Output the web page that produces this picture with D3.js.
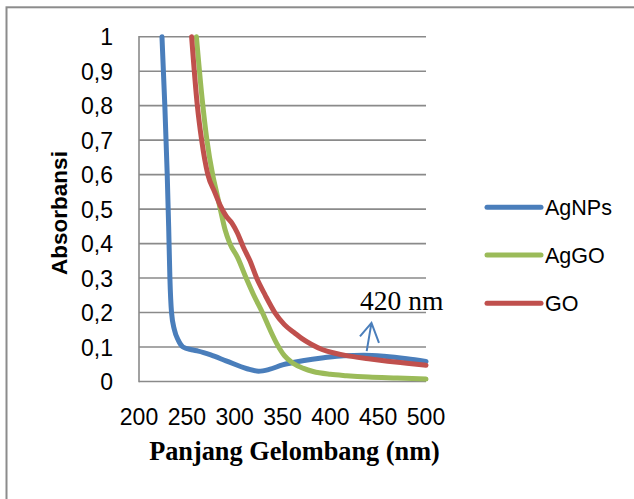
<!DOCTYPE html>
<html>
<head>
<meta charset="utf-8">
<script src="https://cdn.jsdelivr.net/npm/d3@7"></script>
<style>
  html, body { margin: 0; padding: 0; background: #fff; }
  svg { display: block; }
</style>
</head>
<body>
<svg id="chart" width="634" height="499"></svg>
<script>
// ---- data ----
const seriesNames = ["AgNPs", "AgGO", "GO"];
const seriesColors = ["#4a7ebb", "#9bbb59", "#c0504d"];

const agnpsWl  = [224, 227, 229.5, 231, 232.3, 234, 237, 241, 246, 255, 262, 275, 291, 313, 325, 336, 350, 371, 393, 414, 435, 456, 480, 500];
const agnpsAbs = [1.0, 0.8, 0.6, 0.45, 0.3, 0.2, 0.15, 0.12, 0.10, 0.092, 0.088, 0.077, 0.06, 0.037, 0.03, 0.035, 0.048, 0.06, 0.069, 0.075, 0.076, 0.073, 0.066, 0.058];

const aggoWl  = [260, 266, 271, 277, 281, 285, 290, 295, 303, 312, 320, 329, 337, 344, 352, 361, 372, 382, 400, 417, 440, 470, 500];
const aggoAbs = [1.0, 0.82, 0.7, 0.6, 0.55, 0.5, 0.44, 0.4, 0.36, 0.3, 0.25, 0.2, 0.15, 0.11, 0.075, 0.053, 0.038, 0.029, 0.021, 0.017, 0.013, 0.01, 0.007];

const goWl  = [255, 261, 265.5, 272, 279, 285, 291, 297, 303, 309, 316, 323, 332, 342, 352, 363, 370, 380, 392, 405, 417, 440, 460, 480, 500];
const goAbs = [1.0, 0.8, 0.7, 0.6, 0.55, 0.51, 0.48, 0.46, 0.43, 0.39, 0.35, 0.3, 0.25, 0.2, 0.165, 0.14, 0.125, 0.108, 0.092, 0.082, 0.075, 0.066, 0.059, 0.053, 0.047];

const xTicks = [200, 250, 300, 350, 400, 450, 500];
const yTicks = [0, 0.1, 0.2, 0.3, 0.4, 0.5, 0.6, 0.7, 0.8, 0.9, 1];
const yTickLabels = ["0", "0,1", "0,2", "0,3", "0,4", "0,5", "0,6", "0,7", "0,8", "0,9", "1"];

const annotationText = "420 nm";
const annotationX = 443;       // wavelength position of arrow
const annotationY = [0.088, 0.17];

// ---- build ----
const series = [
  { name: seriesNames[0], color: seriesColors[0], pts: agnpsWl.map((w, i) => [w, agnpsAbs[i]]) },
  { name: seriesNames[1], color: seriesColors[1], pts: aggoWl.map((w, i) => [w, aggoAbs[i]]) },
  { name: seriesNames[2], color: seriesColors[2], pts: goWl.map((w, i) => [w, goAbs[i]]) }
];

const svg = d3.select("#chart");
const x = d3.scaleLinear().domain([200, 500]).range([139, 426]);
const y = d3.scaleLinear().domain([0, 1]).range([381.5, 36.7]);

// outer border
svg.append("rect")
  .attr("x", 6.5).attr("y", 7.3).attr("width", 700).attr("height", 600)
  .attr("fill", "none").attr("stroke", "#8c8c8c").attr("stroke-width", 2);

// gridlines
svg.append("g").selectAll("line").data(yTicks).join("line")
  .attr("x1", x(200)).attr("x2", x(500))
  .attr("y1", d => y(d)).attr("y2", d => y(d))
  .attr("stroke", "#8a8a8a").attr("stroke-width", 1.6);

// left axis line
svg.append("line")
  .attr("x1", x(200)).attr("x2", x(200))
  .attr("y1", y(0) + 0.8).attr("y2", y(1) - 0.8)
  .attr("stroke", "#8a8a8a").attr("stroke-width", 1.6);

// y tick labels
svg.append("g").selectAll("text").data(yTicks).join("text")
  .attr("x", 113).attr("y", d => y(d) + 8.5)
  .attr("text-anchor", "end")
  .attr("font-family", "Liberation Sans, Arial, sans-serif")
  .attr("font-size", 23).attr("fill", "#000")
  .text((d, i) => yTickLabels[i]);

// x tick labels
svg.append("g").selectAll("text").data(xTicks).join("text")
  .attr("x", d => x(d)).attr("y", 425)
  .attr("text-anchor", "middle")
  .attr("font-family", "Liberation Sans, Arial, sans-serif")
  .attr("font-size", 23).attr("fill", "#000")
  .text(d => d);

// lines
const line = d3.line().x(d => x(d[0])).y(d => y(d[1])).curve(d3.curveMonotoneX);
series.forEach(s => {
  svg.append("path").datum(s.pts)
    .attr("d", line)
    .attr("fill", "none")
    .attr("stroke", s.color)
    .attr("stroke-width", 5)
    .attr("stroke-linejoin", "round")
    .attr("stroke-linecap", "round");
});

// annotation arrow
const ax0 = x(annotationX - 5), ay0 = y(annotationY[0]);
const ax1 = x(annotationX), ay1 = y(annotationY[1]);
svg.append("path")
  .attr("d", `M${ax0},${ay0} L${ax1},${ay1} M${ax1 - 11.5},${ay1 + 13.5} L${ax1},${ay1} L${ax1 + 7.5},${ay1 + 20}`)
  .attr("fill", "none").attr("stroke", "#4a7ebb").attr("stroke-width", 2)
  .attr("stroke-linejoin", "miter");

svg.append("text")
  .attr("x", 360).attr("y", 310)
  .attr("font-family", "Liberation Serif, Times New Roman, serif")
  .attr("font-size", 27.5).attr("fill", "#000")
  .text(annotationText);

// legend
const legendY = [207.3, 255, 303.3];
series.forEach((s, i) => {
  svg.append("line")
    .attr("x1", 487).attr("x2", 541)
    .attr("y1", legendY[i]).attr("y2", legendY[i])
    .attr("stroke", s.color).attr("stroke-width", 5)
    .attr("stroke-linecap", "round");
  svg.append("text")
    .attr("x", 545).attr("y", legendY[i] + 7.5)
    .attr("font-family", "Liberation Sans, Arial, sans-serif")
    .attr("font-size", 21.5).attr("fill", "#000")
    .text(s.name);
});

// axis titles
svg.append("text")
  .attr("x", 294.5).attr("y", 460)
  .attr("text-anchor", "middle")
  .attr("font-family", "Liberation Serif, Times New Roman, serif")
  .attr("font-weight", "bold")
  .attr("font-size", 26.3).attr("fill", "#000")
  .text("Panjang Gelombang (nm)");

svg.append("text")
  .attr("transform", "translate(67,213) rotate(-90)")
  .attr("text-anchor", "middle")
  .attr("font-family", "Liberation Sans, Arial, sans-serif")
  .attr("font-weight", "bold")
  .attr("font-size", 22.5).attr("fill", "#000")
  .text("Absorbansi");
</script>
</body>
</html>
